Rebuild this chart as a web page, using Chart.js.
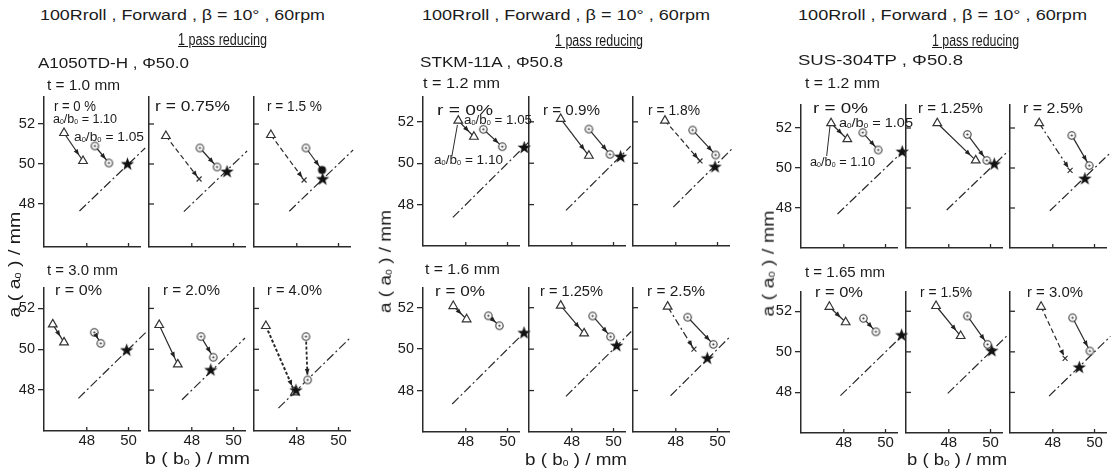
<!DOCTYPE html>
<html><head><meta charset="utf-8">
<script src="https://cdn.jsdelivr.net/npm/chart.js@4.4.1/dist/chart.umd.min.js"></script>
<style>
html,body{margin:0;padding:0;background:#fff}
body{width:1116px;height:472px;position:relative;overflow:hidden;font-family:"Liberation Sans",Arial,sans-serif;color:#1b1b1b}
.t{position:absolute;white-space:nowrap;line-height:1.2}
.t sub{font-size:0.55em;vertical-align:-0.12em;line-height:0}
canvas{position:absolute}
</style></head><body>
<script>
// ---------------- DATA (b, a) in mm ; panel index = group*6 + row*3 + col ----------------
const xTicks = [48, 50];
const yTicks = [48, 50, 52];
const titleText = "100Rroll , Forward , \u03b2 = 10\u00b0 , 60rpm";
const subtitleText = "1 pass reducing";
const materials = ["A1050TD-H , \u03a650.0", "STKM-11A , \u03a650.8", "SUS-304TP , \u03a650.8"];
const thickness = ["t = 1.0 mm", "t = 3.0 mm", "t = 1.2 mm", "t = 1.6 mm", "t = 1.2 mm", "t = 1.65 mm"];
const reductions = ["r = 0 %", "r = 0.75%", "r = 1.5 %", "r = 0%", "r = 2.0%", "r = 4.0%",
                    "r = 0%", "r = 0.9%", "r = 1.8%", "r = 0%", "r = 1.25%", "r = 2.5%",
                    "r = 0%", "r = 1.25%", "r = 2.5%", "r = 0%", "r = 1.5%", "r = 3.0%"];
const ratioLabels = ["a<sub>0</sub>/b<sub>0</sub> = 1.10", "a<sub>0</sub>/b<sub>0</sub> = 1.05"];
const triStart = [[46.91,51.55],[46.76,51.40],[46.76,51.45],[46.37,51.22],[46.44,51.19],[46.52,51.14],
                  [47.64,52.06],[47.47,52.14],[47.48,52.06],[47.40,52.08],[47.47,52.10],[47.61,52.05],
                  [47.39,52.24],[47.45,52.24],[47.35,52.24],[47.31,52.22],[47.39,52.26],[47.44,52.22]];
const triEnd   = [[47.82,50.15],[48.35,49.25],[48.35,49.20],[46.91,50.34],[47.33,49.26],[47.91,47.89],
                  [48.39,51.28],[48.82,50.36],[49.16,50.11],[48.04,51.44],[48.59,50.76],[48.87,50.00],
                  [48.17,51.44],[49.29,50.38],[48.83,49.88],[48.09,51.46],[48.57,50.78],[48.59,49.68]];
const circStart= [[48.39,50.90],[48.39,50.80],[48.44,50.80],[48.36,50.83],[48.44,50.62],[48.44,50.62],
                  [48.84,51.64],[48.82,51.65],[48.81,51.60],[49.08,51.61],[49.00,51.60],[48.57,51.54],
                  [48.91,51.77],[48.89,51.68],[48.91,51.63],[48.94,51.65],[48.89,51.77],[48.95,51.68]];
const circEnd  = [[49.06,50.05],[49.21,49.85],[49.21,49.70],[48.67,50.29],[49.03,49.61],[48.52,48.50],
                  [49.75,50.80],[49.83,50.43],[49.91,50.40],[49.61,51.13],[49.86,50.60],[49.80,50.23],
                  [49.65,50.90],[49.82,50.38],[49.75,50.12],[49.54,50.99],[49.86,50.37],[49.78,50.04]];
const starPts  = [[49.95,50.00],[49.69,49.62],[49.24,49.25],[49.91,49.96],[48.91,48.99],[47.96,48.00],
                  [50.80,50.76],[50.34,50.32],[49.88,49.83],[50.79,50.79],[50.15,50.17],[49.51,49.56],
                  [50.80,50.82],[50.18,50.20],[49.54,49.47],[50.77,50.83],[50.06,50.06],[49.27,49.24]];
const diagRange= [[47.65,50.80],[47.62,50.65],[47.64,50.70],[47.60,50.88],[47.53,50.55],[47.12,50.52],
                  [47.38,51.00],[47.72,50.82],[47.88,50.74],[47.35,50.72],[47.72,50.85],[47.75,50.64],
                  [47.70,50.72],[47.90,50.85],[47.86,50.72],[47.84,50.78],[47.95,50.86],[47.82,50.76]];
const leaderFrom = {6:[47.33,50.32], 12:[47.18,50.60]};
const leaderTo   = {6:[47.60,51.85], 12:[47.34,52.10]};

// ---------------- STYLES ----------------
const triLineStyle = ['solid','dashed','dashed','solid','solid','bold','solid','solid','dashed','solid','solid','dashdot','solid','solid','dashdot','solid','solid','dashed'];
const triEndMark   = ['tri','x','x','tri','tri','tri','tri','tri','x','tri','tri','x','tri','tri','x','tri','tri','x'];
const circEndMark  = ['circ','circ','dot','circ','circ','circ','circ','circ','circ','circ','circ','circ','circ','circ','circ','circ','circ','circ'];
const circLineStyle= ['solid','solid','solid','solid','solid','bold','solid','solid','solid','solid','solid','solid','solid','solid','solid','solid','solid','solid'];
const dashMap = {solid:[], dashed:[5,3], dashdot:[7,3,2,3], bold:[3,2]};

// ---------------- LAYOUT ----------------
const colLeft = [44,149,254, 423,529,633, 801,906,1010];
const rowBox = [[97,247,45.85,53.35],[288,431,46,53.0],[97,246,46,53.2],[288,432,46,52.95],[105,248,46,53.15],[292,433,46,52.95]];
const XMIN = 45.95, XMAX = 50.55, PW = 96;
const INK = '#2a2a2a';
const FONT = '"Liberation Sans", Arial, sans-serif';

function mk(w,h,draw){const c=document.createElement('canvas');c.width=w;c.height=h;draw(c.getContext('2d'));return c;}
const starImg = mk(15,15,ctx=>{ctx.fillStyle='#111';ctx.beginPath();for(let i=0;i<10;i++){const r=i%2?2.8:7;const a=-Math.PI/2+i*Math.PI/5;ctx.lineTo(7.5+r*Math.cos(a),7.8+r*Math.sin(a));}ctx.closePath();ctx.fill();});
const circImg = mk(11,11,ctx=>{ctx.fillStyle='#fff';ctx.strokeStyle='#333';ctx.lineWidth=1.1;ctx.beginPath();ctx.arc(5.5,5.5,3.7,0,Math.PI*2);ctx.fill();ctx.stroke();ctx.fillStyle='#333';ctx.beginPath();ctx.arc(5.5,5.5,1.1,0,Math.PI*2);ctx.fill();});
const dotImg = mk(11,11,ctx=>{ctx.fillStyle='#111';ctx.beginPath();ctx.arc(5.5,5.5,4,0,Math.PI*2);ctx.fill();});

const inTicks = {id:'inTicks', afterDraw(chart,args,opts){
  const {ctx, chartArea:ca, scales:{x,y}} = chart;
  ctx.save(); ctx.strokeStyle=INK; ctx.lineWidth=1.3;
  xTicks.forEach(v=>{const px=x.getPixelForValue(v);ctx.beginPath();ctx.moveTo(px,ca.bottom);ctx.lineTo(px,ca.bottom-4);ctx.stroke();});
  if(!opts.outer) yTicks.forEach(v=>{const py=y.getPixelForValue(v);ctx.beginPath();ctx.moveTo(ca.left,py);ctx.lineTo(ca.left+5,py);ctx.stroke();});
  ctx.restore();
}};
const arrows = {id:'arrows', afterDatasetsDraw(chart){
  const ctx=chart.ctx;
  chart.data.datasets.forEach((ds,i)=>{
    if(!ds.arrow) return;
    const pts=chart.getDatasetMeta(i).data; if(pts.length<2) return;
    const a=pts[0], b=pts[1]; const dx=b.x-a.x, dy=b.y-a.y, L=Math.hypot(dx,dy); if(L<1) return;
    const ux=dx/L, uy=dy/L, tx=b.x-ux*ds.arrowBack, ty=b.y-uy*ds.arrowBack, hl=6, hw=2.4;
    ctx.save(); ctx.fillStyle='#222'; ctx.beginPath(); ctx.moveTo(tx,ty);
    ctx.lineTo(tx-ux*hl-uy*hw, ty-uy*hl+ux*hw); ctx.lineTo(tx-ux*hl+uy*hw, ty-uy*hl-ux*hw); ctx.closePath(); ctx.fill(); ctx.restore();
  });
}};

function pt(v){return {x:v[0], y:v[1]};}
function endStyle(m){return m==='tri'?'triangle':m==='x'?'crossRot':m==='dot'?dotImg:circImg;}

for(let g=0;g<3;g++) for(let row=0;row<2;row++) for(let col=0;col<3;col++){
  const p=g*6+row*3+col;
  const [top,bottom,ymin,ymax]=rowBox[g*2+row];
  const left=colLeft[g*3+col];
  const LW=40, TP=12, RP=24, BH=28;
  const cv=document.createElement('canvas');
  cv.width=LW+PW+RP; cv.height=TP+(bottom-top)+BH;
  cv.style.left=(left-LW)+'px'; cv.style.top=(top-TP)+'px';
  document.body.appendChild(cv);
  const ds=[];
  ds.push({data:[pt(starPts[p])], pointStyle:starImg, pointRadius:6, clip:false});
  const cs=circLineStyle[p];
  ds.push({data:[pt(circStart[p]),pt(circEnd[p])], showLine:true, borderColor:INK, borderWidth:cs==='bold'?1.8:1.2, borderDash:dashMap[cs],
    pointStyle:[circImg,endStyle(circEndMark[p])], pointRadius:4, clip:false, arrow:true, arrowBack:5});
  const ts=triLineStyle[p], te=triEndMark[p];
  ds.push({data:[pt(triStart[p]),pt(triEnd[p])], showLine:true, borderColor:INK, borderWidth:ts==='bold'?2:1.2, borderDash:dashMap[ts],
    pointStyle:['triangle',endStyle(te)], pointRadius:[5, te==='x'?3.5:5], pointBackgroundColor:'#fff', pointBorderColor:'#333', pointBorderWidth:1.2,
    clip:false, arrow:true, arrowBack:te==='x'?3:7});
  const d=diagRange[p];
  ds.push({data:[{x:d[0],y:d[0]},{x:d[1],y:d[1]}], showLine:true, borderColor:INK, borderWidth:1.2, borderDash:[9,3,2,3], pointRadius:0, clip:false});
  if(leaderFrom[p]) ds.push({data:[pt(leaderFrom[p]),pt(leaderTo[p])], showLine:true, borderColor:INK, borderWidth:1, pointRadius:0, clip:false});
  new Chart(cv,{type:'scatter', data:{datasets:ds},
    options:{animation:false, responsive:false, devicePixelRatio:1, events:[],
      layout:{padding:{top:TP,right:RP,left:0,bottom:0}},
      plugins:{legend:{display:false}, tooltip:{enabled:false}, inTicks:{outer:col===0}},
      scales:{
        x:{type:'linear', min:XMIN, max:XMAX, afterBuildTicks:s=>{s.ticks=xTicks.map(v=>({value:v}));}, afterFit:s=>{s.height=BH;},
           grid:{display:false, drawTicks:false}, border:{display:true,color:INK,width:1.5},
           ticks:{display:row===1, font:{size:15,family:FONT}, color:'#1b1b1b', padding:1, maxRotation:0}},
        y:{type:'linear', min:ymin, max:ymax, afterBuildTicks:s=>{s.ticks=yTicks.map(v=>({value:v}));}, afterFit:s=>{s.width=LW;},
           grid:{display:col===0, drawOnChartArea:false, drawTicks:col===0, tickLength:6, color:INK, lineWidth:1.3},
           border:{display:true,color:INK,width:1.5},
           ticks:{display:col===0, font:{size:14.5,family:FONT}, color:'#1b1b1b', padding:3}}
      }},
    plugins:[inTicks, arrows]});
}

// ---------------- TEXT ----------------
function addText(html,x0,x1,yc,fs,ul){
  const d=document.createElement('div'); d.className='t'; d.innerHTML=html; d.style.fontSize=fs+'px';
  d.style.left=x0+'px'; d.style.top=(yc-fs*0.6)+'px'; if(ul) d.style.textDecoration='underline';
  document.body.appendChild(d);
  const w=d.getBoundingClientRect().width; d.style.transformOrigin='0 50%'; d.style.transform='scaleX('+((x1-x0)/w)+')';
}
function addVText(html,xc,yc,len,fs){
  const d=document.createElement('div'); d.className='t'; d.innerHTML=html; d.style.fontSize=fs+'px';
  document.body.appendChild(d);
  const r=d.getBoundingClientRect();
  d.style.left=(xc-r.width/2)+'px'; d.style.top=(yc-r.height/2)+'px'; d.style.transformOrigin='50% 50%';
  d.style.transform='rotate(-90deg) scaleX('+(len/r.width)+')';
}
const titlePos=[[40,325,15],[422,710,15],[798,1087,15]];
const subPos=[[178,267,40],[555,643,41],[932,1019,41]];
const matPos=[[38,189,63],[420,563,62],[798,963,60]];
const tPos=[[47,120,85],[47,118,270],[423,500,83],[425,500,269],[805,880,83],[805,885,272]];
const rPos=[[54,96,106],[155,230,106],[267,322,106],[55,102,290],[163,220,290],[267,322,290],
            [437,493,110],[543,600,110],[648,700,110],[435,485,291],[540,603,291],[647,705,291],
            [813,868,108],[918,983,108],[1023,1083,108],[815,863,292],[920,972,292],[1027,1083,292]];
const ratioPos=[[[53,117,119],[74,144,137]],[[434,503,160],[464,532,120]],[[810,875,162],[839,913,123]]];
const xLabPos=[[145,250,459],[525,627,460],[907,1007,460]];
const yLabPos=[[14,265,106],[385,262,103],[768,264,106]];
for(let g=0;g<3;g++){
  addText(titleText,...titlePos[g],15.5);
  addText(subtitleText,...subPos[g],16,true);
  addText(materials[g],...matPos[g],15.5);
  addText(thickness[g*2],...tPos[g*2],15);
  addText(thickness[g*2+1],...tPos[g*2+1],15);
  ratioLabels.forEach((l,k)=>addText(l,...ratioPos[g][k],12.5));
  addText("b ( b<sub>0</sub> ) / mm",...xLabPos[g],16);
  addVText("a ( a<sub>0</sub> ) / mm",...yLabPos[g],16);
}
reductions.forEach((r,i)=>addText(r,...rPos[i],15.5));
</script></body></html>
